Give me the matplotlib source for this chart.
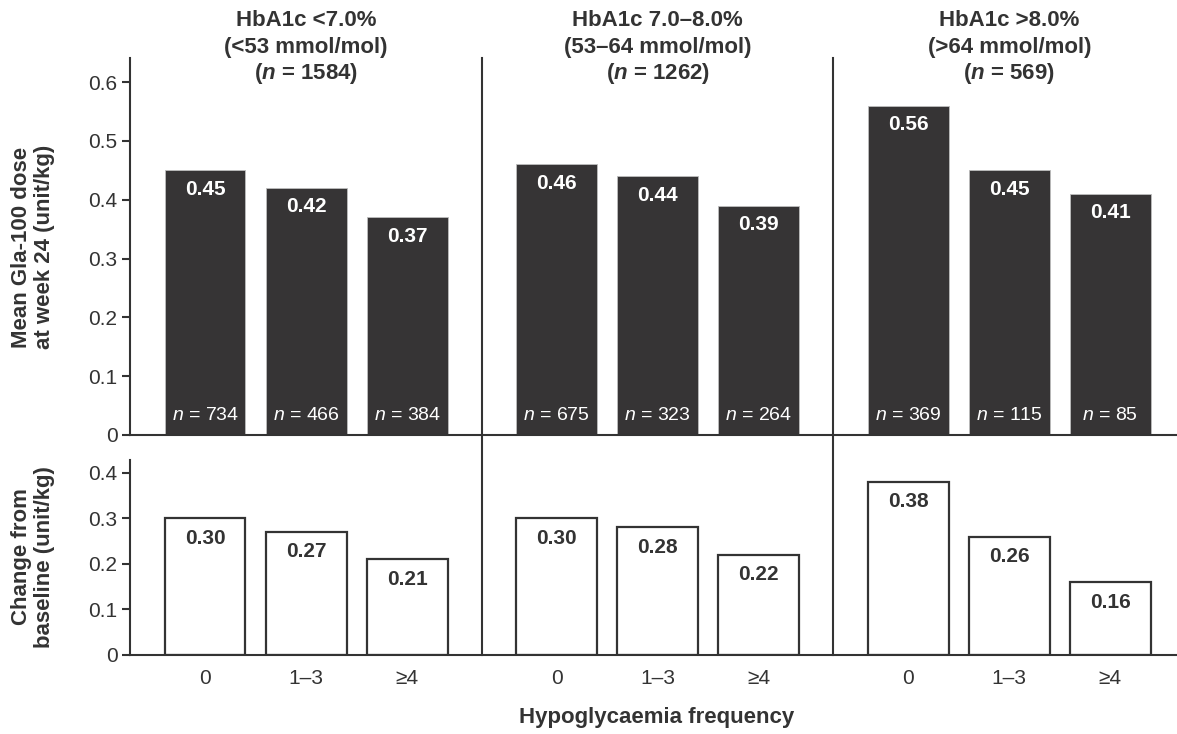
import matplotlib
matplotlib.use("Agg")
import matplotlib.pyplot as plt
import matplotlib.transforms as mtransforms
from matplotlib.lines import Line2D

plt.rcParams['font.family'] = ['Liberation Sans', 'DejaVu Sans']
plt.rcParams['mathtext.fontset'] = 'custom'
plt.rcParams['mathtext.rm'] = 'Liberation Sans'
plt.rcParams['mathtext.it'] = 'Liberation Sans:italic'
plt.rcParams['mathtext.bf'] = 'Liberation Sans:bold'
plt.rcParams['mathtext.bfit'] = 'Liberation Sans:bold:italic'

# ---- data ----
categories = ['0', '1–3', '≥4']
group_line1 = ['HbA1c <7.0%', 'HbA1c 7.0–8.0%', 'HbA1c >8.0%']
group_line2 = ['(<53 mmol/mol)', '(53–64 mmol/mol)', '(>64 mmol/mol)']
group_n = [1584, 1262, 569]
dose_week24 = [[0.45, 0.42, 0.37], [0.46, 0.44, 0.39], [0.56, 0.45, 0.41]]
change_baseline = [[0.30, 0.27, 0.21], [0.30, 0.28, 0.22], [0.38, 0.26, 0.16]]
n_per_bar = [[734, 466, 384], [675, 323, 264], [369, 115, 85]]
top_ticks = [0, 0.1, 0.2, 0.3, 0.4, 0.5, 0.6]
bottom_ticks = [0, 0.1, 0.2, 0.3, 0.4]

TXT = '#333333'
DARK = '#363435'
W, H = 1177, 734
fig = plt.figure(figsize=(W / 100, H / 100), dpi=100)
ax1 = fig.add_axes([130 / W, 299 / H, 1047 / W, 377 / H])
ax2 = fig.add_axes([130 / W, 79 / H, 1047 / W, 195 / H])

step = 3.48
bw = 0.8
xs = [[g * step + i for i in range(3)] for g in range(3)]

for g in range(3):
    for i in range(3):
        x = xs[g][i]
        v = dose_week24[g][i]
        ax1.bar(x, v, width=bw, color=DARK, edgecolor='#bdbdbd', linewidth=0.6)
        ax1.annotate(f'{v:.2f}', (x, v), xytext=(0, -19), textcoords='offset pixels',
                     ha='center', va='center', color='white', fontsize=15, fontweight='bold')
        ax1.annotate(r'$\mathit{n}$ = ' + str(n_per_bar[g][i]), (x, 0), xytext=(0, 20),
                     textcoords='offset pixels', ha='center', va='center', color='white',
                     fontsize=14)
        c = change_baseline[g][i]
        ax2.bar(x, c, width=bw, color='white', edgecolor=TXT, linewidth=1.6)
        ax2.annotate(f'{c:.2f}', (x, c), xytext=(0, -20), textcoords='offset pixels',
                     ha='center', va='center', color=TXT, fontsize=15, fontweight='bold')

xlim = (-0.743, 9.62)
for ax, ticks, top in ((ax1, top_ticks, 0.641), (ax2, bottom_ticks, 0.428)):
    ax.set_xlim(*xlim)
    ax.set_ylim(0, top)
    ax.set_yticks(ticks)
    ax.set_yticklabels(['0' if t == 0 else f'{t:.1f}' for t in ticks])
    for s in ('top', 'right'):
        ax.spines[s].set_visible(False)
    for s in ('left', 'bottom'):
        ax.spines[s].set_color(TXT)
        ax.spines[s].set_linewidth(1.5)
    ax.tick_params(axis='y', length=6, width=1.5, color=TXT, labelcolor=TXT,
                   labelsize=15, pad=3)
    ax.tick_params(axis='x', length=0, labelcolor=TXT, labelsize=15, pad=10)

ax1.set_xticks([])
ax2.set_xticks([x for row in xs for x in row])
ax2.set_xticklabels(categories * 3)

# separators spanning both panels
trans = mtransforms.blended_transform_factory(ax1.transData, fig.transFigure)
for sx in (2.74, 6.22):
    fig.add_artist(Line2D([sx, sx], [79 / H, 676 / H], transform=trans, color=TXT, lw=1.5))

# group titles
for g in range(3):
    cx = xs[g][1]
    fig.text(0, 0, group_line1[g], transform=trans, color=TXT, fontsize=16, fontweight='bold',
             ha='center', va='baseline').set_position((cx, 1 - 26 / H))
    fig.text(0, 0, group_line2[g], transform=trans, color=TXT, fontsize=16, fontweight='bold',
             ha='center', va='baseline').set_position((cx, 1 - 53 / H))
    fig.text(0, 0, r'($\mathbfit{n}$ = ' + str(group_n[g]) + ')', transform=trans, color=TXT,
             fontsize=16, fontweight='bold', ha='center', va='baseline').set_position((cx, 1 - 79 / H))

fig.text(33 / W, 1 - 247 / H, 'Mean Gla-100 dose\nat week 24 (unit/kg)', rotation=90,
         ha='center', va='center', multialignment='center', color=TXT, fontsize=16,
         fontweight='bold', linespacing=1.15)
fig.text(33 / W, 1 - 557 / H, 'Change from\nbaseline (unit/kg)', rotation=90,
         ha='center', va='center', multialignment='center', color=TXT, fontsize=16,
         fontweight='bold', linespacing=1.15)
fig.text(657 / W, 1 - 718 / H, 'Hypoglycaemia frequency', ha='center', va='center',
         color=TXT, fontsize=16, fontweight='bold')

fig.savefig('out.png', dpi=100)
